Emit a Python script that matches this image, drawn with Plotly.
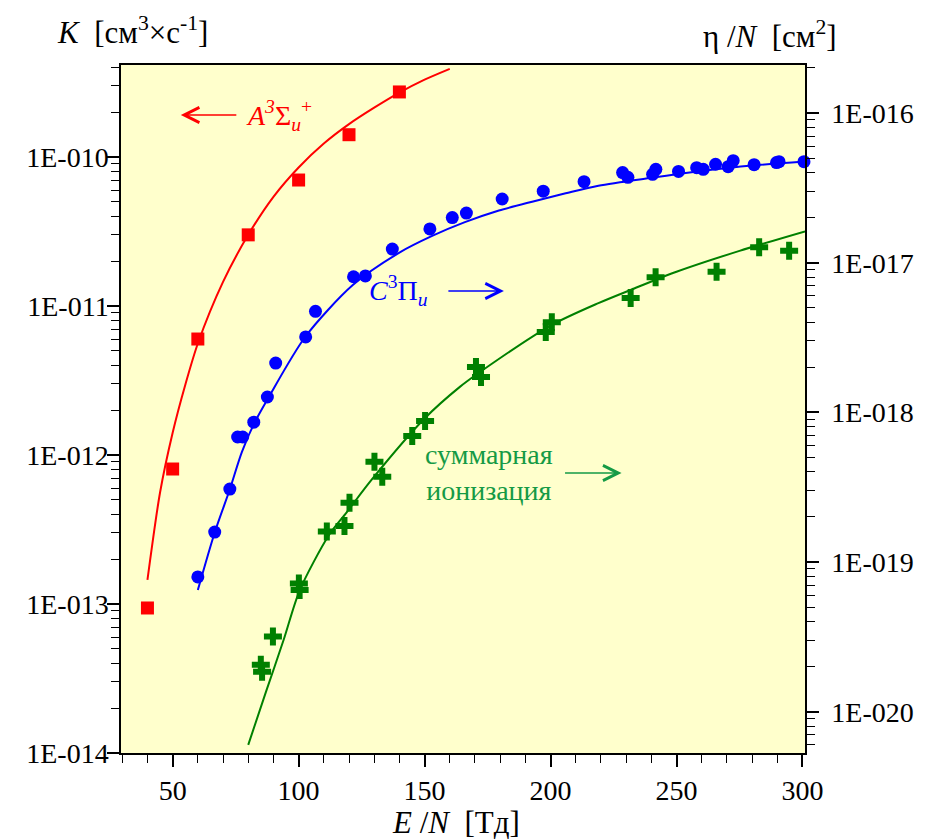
import plotly.graph_objects as go

# ---------------- data ----------------
# A3Sigma_u+ (left axis, K)
a_x = [40, 50, 60, 80, 100, 120, 140]
a_y = [9.4e-14, 8.05e-13, 6.0e-12, 3.0e-11, 7.0e-11, 1.41e-10, 2.73e-10]
a_fit_x = [40, 45, 50, 55, 60, 70, 80, 90, 100, 110, 120, 130, 140, 150, 160]
a_fit_y = [1.45e-13, 5.6e-13, 1.41e-12, 2.95e-12, 5.6e-12, 1.45e-11, 3.0e-11,
           5.4e-11, 8.5e-11, 1.23e-10, 1.66e-10, 2.14e-10, 2.7e-10, 3.3e-10, 3.9e-10]

# C3Pi_u (left axis, K)
c_x = [60.0, 66.7, 72.7, 75.8, 77.8, 82.2, 87.6, 90.9, 102.8, 106.7, 121.8, 126.5,
       137.2, 152.1, 161.0, 166.6, 180.8, 197.1, 213.3, 228.6, 230.7, 240.5, 241.8,
       250.8, 258.0, 260.6, 265.5, 270.5, 272.5, 280.8, 289.7, 290.7, 300.6, 303.5]
c_y = [1.52e-13, 3.04e-13, 5.9e-13, 1.32e-12, 1.32e-12, 1.66e-12, 2.45e-12, 4.14e-12,
       6.2e-12, 9.2e-12, 1.57e-11, 1.59e-11, 2.41e-11, 3.29e-11, 3.92e-11, 4.2e-11,
       5.22e-11, 5.89e-11, 6.82e-11, 7.85e-11, 7.3e-11, 7.65e-11, 8.26e-11, 8.0e-11,
       8.47e-11, 8.26e-11, 8.93e-11, 8.6e-11, 9.44e-11, 8.87e-11, 9.16e-11, 9.3e-11,
       9.3e-11, 9.8e-11]
c_fit_x = [60, 66.7, 72.7, 77.5, 82.6, 88, 102.6, 121.5, 140, 153, 166, 179.5, 192.7,
           206, 219, 240, 260, 280, 301]
c_fit_y = [1.24e-13, 3.02e-13, 5.89e-13, 1.05e-12, 1.66e-12, 2.42e-12, 6.19e-12, 1.38e-11,
           2.28e-11, 2.95e-11, 3.65e-11, 4.37e-11, 5.01e-11, 5.7e-11, 6.41e-11, 7.24e-11,
           8.04e-11, 8.75e-11, 9.31e-11]

# total ionization (right axis, eta/N)
i_x = [85.0, 85.5, 89.8, 100.1, 100.4, 111.2, 118.2, 120.2, 130.1, 133.2, 145.1, 150.2,
       170.4, 172.4, 198.1, 200.5, 231.8, 241.7, 265.9, 282.8, 294.7]
i_y = [2.06e-20, 1.85e-20, 3.18e-20, 7.2e-20, 6.5e-20, 1.6e-19, 1.74e-19, 2.49e-19,
       4.67e-19, 3.72e-19, 6.95e-19, 8.77e-19, 2.01e-18, 1.72e-18, 3.44e-18, 4.0e-18,
       5.8e-18, 8.0e-18, 8.7e-18, 1.27e-17, 1.2e-17]
i_fit_x = [80, 87, 94, 100.4, 112, 119, 129, 150, 164, 172, 200, 219, 232, 250, 275, 301]
i_fit_y = [6.0e-21, 1.35e-20, 3.0e-20, 6.45e-20, 1.51e-19, 2.14e-19, 3.55e-19, 9.1e-19,
           1.48e-18, 1.86e-18, 3.8e-18, 5.37e-18, 6.6e-18, 8.7e-18, 1.2e-17, 1.62e-17]

left_ticks = [1e-14, 1e-13, 1e-12, 1e-11, 1e-10]
left_labels = ["1E-014", "1E-013", "1E-012", "1E-011", "1E-010"]
right_ticks = [1e-20, 1e-19, 1e-18, 1e-17, 1e-16]
right_labels = ["1E-020", "1E-019", "1E-018", "1E-017", "1E-016"]

# ---------------- styles ----------------
FONT = "Liberation Serif, Times New Roman, serif"
FS = 28
TFS = 31
RED, BLUE, GREEN, GTXT = "#FF0000", "#0000FF", "#008000", "#159a45"

fig = go.Figure()
fig.add_trace(go.Scatter(x=a_fit_x, y=a_fit_y, mode="lines",
                         line=dict(color=RED, width=2, shape="spline", smoothing=0.8),
                         yaxis="y", showlegend=False))
fig.add_trace(go.Scatter(x=a_x, y=a_y, mode="markers", marker=dict(symbol="square", size=13, color=RED),
                         yaxis="y", showlegend=False, cliponaxis=False))
fig.add_trace(go.Scatter(x=c_fit_x, y=c_fit_y, mode="lines",
                         line=dict(color=BLUE, width=2, shape="spline", smoothing=0.8),
                         yaxis="y", showlegend=False))
fig.add_trace(go.Scatter(x=c_x, y=c_y, mode="markers", marker=dict(symbol="circle", size=13, color=BLUE),
                         yaxis="y", showlegend=False, cliponaxis=False))
fig.add_trace(go.Scatter(x=i_fit_x, y=i_fit_y, mode="lines",
                         line=dict(color=GREEN, width=2, shape="spline", smoothing=0.8),
                         yaxis="y2", showlegend=False))
fig.add_trace(go.Scatter(x=i_x, y=i_y, mode="markers", marker=dict(symbol="cross", size=15, color=GREEN),
                         yaxis="y2", showlegend=False, cliponaxis=False))

minor_left = [k * 10.0 ** e for e in range(-14, -9) for k in range(2, 10)]
minor_right = [k * 10.0 ** e for e in range(-21, -15) for k in range(2, 10)]

tickfont = dict(family=FONT, size=FS, color="black")

# the page body adds an 8 px offset, so the figure is 8 px smaller
fig.update_layout(
    width=918, height=832,
    margin=dict(l=113, r=119, t=57, b=87),
    paper_bgcolor="white",
    plot_bgcolor="#FFFFCC",
    font=dict(family=FONT, size=FS, color="black"),
    xaxis=dict(range=[29.5, 301.0], showline=True, linecolor="black", linewidth=1.5, mirror=True,
               ticks="outside", ticklen=12, tickwidth=1.5, tickcolor="black",
               tickmode="linear", tick0=0, dtick=50, tickfont=tickfont, showgrid=False, zeroline=False,
               minor=dict(ticks="outside", ticklen=8, tickwidth=1.2, tickcolor="black", dtick=10, tick0=0,
                          showgrid=False)),
    yaxis=dict(type="log", range=[-14, -9.383], showline=True, linecolor="black", linewidth=1.5,
               ticks="outside", ticklen=12, tickwidth=1.5, tickcolor="black",
               tickmode="array", tickvals=left_ticks, ticktext=left_labels, tickfont=tickfont,
               ticklabelstandoff=-7,
               showgrid=False, zeroline=False,
               minor=dict(ticks="outside", ticklen=8, tickwidth=1.2, tickcolor="black",
                          tickmode="array", tickvals=minor_left, showgrid=False)),
    yaxis2=dict(type="log", range=[-20.276, -15.679], overlaying="y", side="right",
                showline=True, linecolor="black", linewidth=1.5,
                ticks="outside", ticklen=12, tickwidth=1.5, tickcolor="black",
                tickmode="array", tickvals=right_ticks, ticktext=right_labels, tickfont=tickfont,
                ticklabelstandoff=7,
                showgrid=False, zeroline=False,
                minor=dict(ticks="outside", ticklen=8, tickwidth=1.2, tickcolor="black",
                           tickmode="array", tickvals=minor_right, showgrid=False)),
)

def px_x(p):
    return (p - 121) / 686.0

def px_y(p):
    return (753 - p) / 688.0

tfont = dict(family=FONT, size=TFS, color="black")
ann = []
# axis titles
ann.append(dict(text="<i>K</i>  [см<sup>3</sup>×с<sup>-1</sup>]", x=px_x(55), y=px_y(30),
                xanchor="left", yanchor="middle", font=tfont))
ann.append(dict(text="η /<i>N</i>  [см<sup>2</sup>]", x=px_x(703), y=px_y(35),
                xanchor="left", yanchor="middle", font=tfont))
ann.append(dict(text="<i>E</i> /<i>N</i>  [Тд]", x=px_x(457), y=px_y(822),
                xanchor="center", yanchor="middle", font=tfont))
# series labels
ann.append(dict(text="<i>A</i><sup><i>3</i></sup>Σ<sub><i>u</i></sub><sup>+</sup>", x=px_x(244), y=px_y(115),
                xanchor="left", yanchor="middle", font=dict(family=FONT, size=FS, color=RED)))
ann.append(dict(text="<i>C</i><sup>3</sup>Π<sub><i>u</i></sub>", x=px_x(368), y=px_y(290),
                xanchor="left", yanchor="middle", font=dict(family=FONT, size=FS, color=BLUE)))
ann.append(dict(text="суммарная<br>ионизация", x=px_x(490), y=px_y(473),
                xanchor="center", yanchor="middle", align="center",
                font=dict(family=FONT, size=FS, color=GTXT)))
for a in ann:
    a.update(xref="paper", yref="paper", showarrow=False)

# arrows (head at x1, tail at x0, pixel offsets)
for (x0, x1, yy, col) in [(238, 181, 115, RED), (448, 505, 291, BLUE), (565, 623, 473, GTXT)]:
    ann.append(dict(text="", xref="paper", yref="paper", axref="pixel", ayref="pixel",
                    x=px_x(x1), y=px_y(yy), ax=x0 - x1, ay=0,
                    showarrow=True, arrowhead=5, arrowsize=2, arrowwidth=1.5, arrowcolor=col))

fig.update_layout(annotations=ann)
fig.write_html("out.html")
